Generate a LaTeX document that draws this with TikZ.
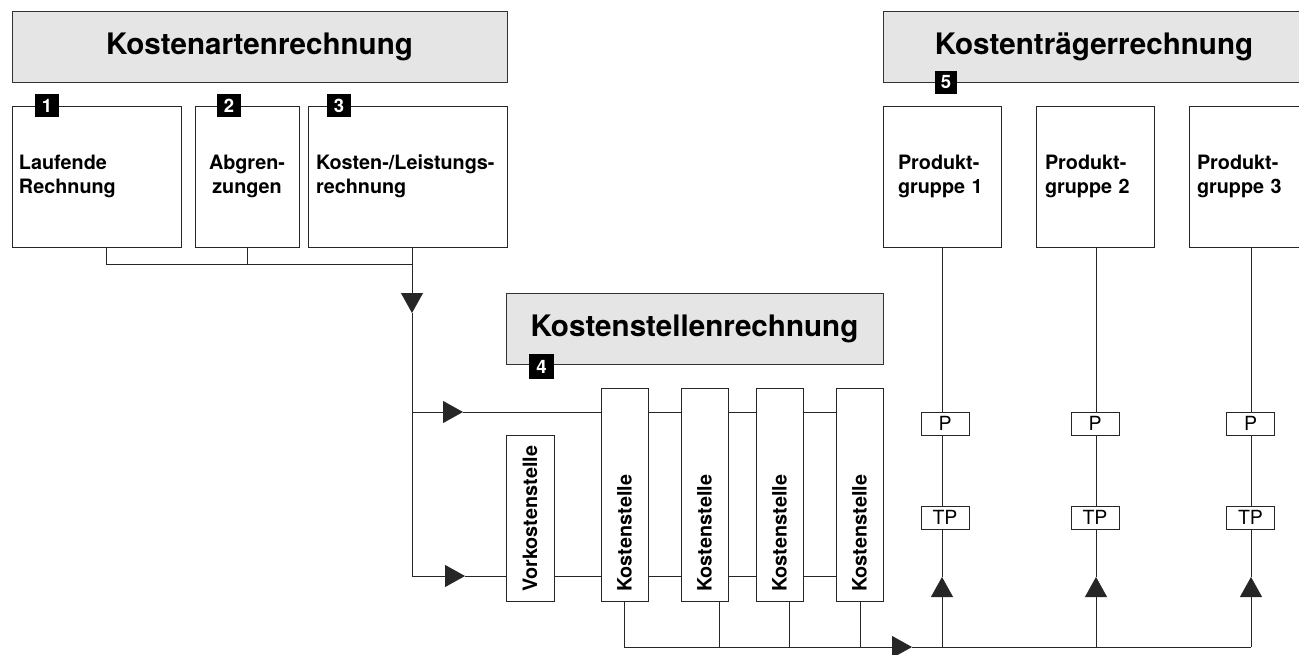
\documentclass[tikz,border=0pt]{standalone}
\usepackage{fontspec}
\setmainfont{TeX Gyre Heros}
\usetikzlibrary{arrows.meta}
\begin{document}
\begin{tikzpicture}[x=1pt,y=-1pt,
  ln/.style={draw=black!85, line width=0.8pt},
  arr/.style={ln, -{Triangle[length=20pt,width=22pt]}},
  hdr/.style={draw=black!80, fill=black!10, line width=0.8pt, minimum height=71pt, inner sep=0pt,
    font=\fontsize{29.6}{32}\selectfont\bfseries},
  bx/.style={draw=black!85, line width=0.8pt, minimum height=141pt, inner ysep=0pt,
    font=\fontsize{19.8}{24}\selectfont\bfseries},
  ks/.style={draw=black!85, line width=0.8pt, minimum width=47pt, inner sep=0pt},
  vt/.style={rotate=90, anchor=west, inner sep=0pt, font=\fontsize{19.8}{20}\selectfont\bfseries},
  pbox/.style={draw=black!85, fill=white, line width=0.8pt, minimum width=48pt, minimum height=23pt,
    inner sep=0pt, font=\fontsize{19.5}{19.5}\selectfont},
  badge/.style={fill=black, text=white, minimum width=24pt, minimum height=23pt, inner sep=0pt,
    font=\fontsize{18.5}{18.5}\selectfont\bfseries}
]
\useasboundingbox (0,0) rectangle (1299,655);

% headers
\node[hdr, minimum width=495pt] (H1) at (259.5,46.5) {Kostenartenrechnung};
\node[hdr, minimum width=422pt] (H2) at (1094,46.5) {Kostenträgerrechnung};
\node[hdr, minimum width=377pt] (H3) at (694.5,328.5) {Kostenstellenrechnung};

% Kostenarten boxes
\node[bx, inner xsep=7pt, text width=155pt, align=left] (B1) at (96.5,176.5) {Laufende\\Rechnung};
\node[bx, inner xsep=7pt, text width=90pt, align=center] (B2) at (247,176.5) {Abgren-\\zungen};
\node[bx, inner xsep=8pt, text width=183pt, align=left] (B3) at (407.5,176.5) {Kosten-/Leistungs-\\rechnung};

% Produktgruppen
\node[bx, inner xsep=15pt, text width=88pt, align=left] (PG1) at (942,176.5) {Produkt-\\gruppe 1};
\node[bx, inner xsep=9pt, text width=100pt, align=left] (PG2) at (1095,176.5) {Produkt-\\gruppe 2};
\node[bx, inner xsep=8pt, text width=102pt, align=left] (PG3) at (1248,176.5) {Produkt-\\gruppe 3};

% Kostenstellen
\node[ks, minimum width=48pt, minimum height=166pt] (VK) at (530,518) {};
\node[ks, minimum height=213pt] (KS1) at (624.5,494.5) {};
\node[ks, minimum height=213pt] (KS2) at (704.5,494.5) {};
\node[ks, minimum height=213pt] (KS3) at (779.5,494.5) {};
\node[ks, minimum height=213pt] (KS4) at (859.5,494.5) {};
\node[vt] (tVK) at (530,592) {Vorkostenstelle};
\node[vt] (tKS1) at (624.5,592) {Kostenstelle};
\node[vt] (tKS2) at (704.5,592) {Kostenstelle};
\node[vt] (tKS3) at (779.5,592) {Kostenstelle};
\node[vt] (tKS4) at (859.5,592) {Kostenstelle};

% P / TP
\node[pbox] (P1) at (945,423.5) {P};
\node[pbox] (P2) at (1095,423.5) {P};
\node[pbox] (P3) at (1250.5,423.5) {P};
\node[pbox] (TP1) at (945,517.5) {TP};
\node[pbox] (TP2) at (1095,517.5) {TP};
\node[pbox] (TP3) at (1250.5,517.5) {TP};

% coordinates
\coordinate (j1) at (106,264);
\coordinate (j2) at (247,264);
\coordinate (j3) at (412,264);
\coordinate (a1) at (412,313);
\coordinate (k1) at (412,412);
\coordinate (k2) at (412,576);
\coordinate (a2) at (463,412);
\coordinate (a3) at (465,576);
\coordinate (m1) at (624,647);
\coordinate (m2) at (719,647);
\coordinate (m3) at (789,647);
\coordinate (m4) at (860,647);
\coordinate (a4) at (912,647);
\coordinate (n1) at (942,647);
\coordinate (n2) at (1096,647);
\coordinate (n3) at (1251,647);
\coordinate (u1) at (942,577);
\coordinate (u2) at (1096,577);
\coordinate (u3) at (1251,577);

% Kostenarten collection
\draw[ln] (B1.south -| j1) -- (j1) -- (j3);
\draw[ln] (B2.south -| j2) -- (j2);
\draw[ln] (B3.south -| j3) -- (j3);
\draw[arr] (j3) -- (a1);
\draw[ln] (a1) -- (k2);

% upper branch
\draw[arr] (k1) -- (a2);
\draw[ln] (a2) -- (KS1.west |- k1);
\draw[ln] (KS1.east |- k1) -- (KS2.west |- k1);
\draw[ln] (KS2.east |- k1) -- (KS3.west |- k1);
\draw[ln] (KS3.east |- k1) -- (KS4.west |- k1);

% lower branch
\draw[arr] (k2) -- (a3);
\draw[ln] (a3) -- (VK.west |- k2);
\draw[ln] (VK.east |- k2) -- (KS1.west |- k2);
\draw[ln] (KS1.east |- k2) -- (KS2.west |- k2);
\draw[ln] (KS2.east |- k2) -- (KS3.west |- k2);
\draw[ln] (KS3.east |- k2) -- (KS4.west |- k2);

% bottom collection
\draw[ln] (KS1.south -| m1) -- (m1);
\draw[ln] (KS2.south -| m2) -- (m2);
\draw[ln] (KS3.south -| m3) -- (m3);
\draw[ln] (KS4.south -| m4) -- (m4);
\draw[arr] (m1) -- (a4);
\draw[ln] (a4) -- (n3);

% up to products
\draw[arr] (n1) -- (u1);
\draw[ln] (u1) -- (TP1.south -| n1);
\draw[ln] (TP1.north -| n1) -- (P1.south -| n1);
\draw[ln] (P1.north -| n1) -- (PG1.south -| n1);
\draw[arr] (n2) -- (u2);
\draw[ln] (u2) -- (TP2.south -| n2);
\draw[ln] (TP2.north -| n2) -- (P2.south -| n2);
\draw[ln] (P2.north -| n2) -- (PG2.south -| n2);
\draw[arr] (n3) -- (u3);
\draw[ln] (u3) -- (TP3.south -| n3);
\draw[ln] (TP3.north -| n3) -- (P3.south -| n3);
\draw[ln] (P3.north -| n3) -- (PG3.south -| n3);

% badges
\node[badge] (N1) at (47,105.5) {1};
\node[badge] (N2) at (229,105.5) {2};
\node[badge] (N3) at (339,105.5) {3};
\node[badge, minimum width=25pt, minimum height=25pt] (N4) at (541.5,366.5) {4};
\node[badge, minimum width=22pt] (N5) at (946,82.5) {5};
\end{tikzpicture}
\end{document}
